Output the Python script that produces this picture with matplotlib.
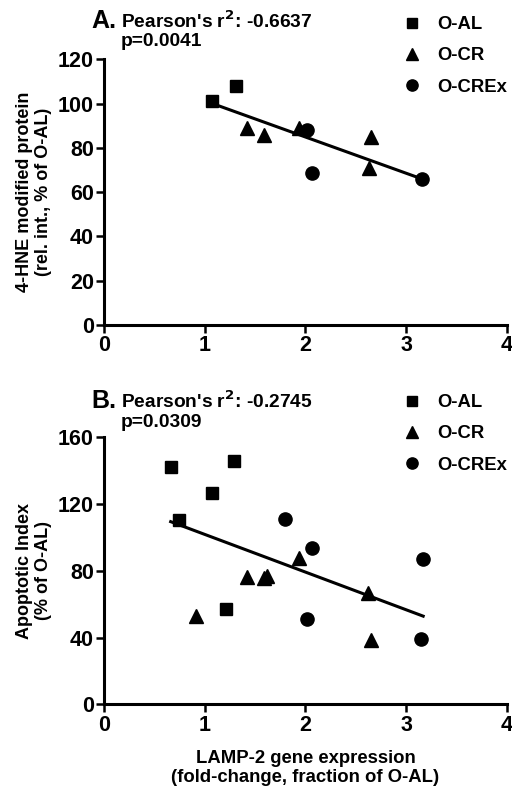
import numpy as np
import matplotlib
matplotlib.use("Agg")
import matplotlib.pyplot as plt

plt.rcParams['font.family'] = ['Liberation Sans', 'DejaVu Sans']
plt.rcParams['font.weight'] = 'bold'
plt.rcParams['axes.labelweight'] = 'bold'

# panel A: 4-HNE modified protein vs LAMP-2
a_al_x = [1.07, 1.31]
a_al_y = [101, 108]
a_cr_x = [1.415, 1.59, 1.94, 2.65, 2.63]
a_cr_y = [89, 86, 89, 85, 71]
a_crex_x = [2.02, 2.06, 3.16]
a_crex_y = [88, 68.8, 65.8]

# panel B: apoptotic index vs LAMP-2
b_al_x = [0.66, 1.29, 1.07, 0.745, 1.21]
b_al_y = [142, 145.8, 126.8, 110.5, 57]
b_cr_x = [0.91, 1.415, 1.59, 1.62, 1.94, 2.62, 2.65]
b_cr_y = [53, 76.5, 76, 77, 87.5, 67, 38.5]
b_crex_x = [1.80, 2.065, 2.02, 3.17, 3.15]
b_crex_y = [110.9, 93.5, 51, 87, 39]

groups = ['O-AL', 'O-CR', 'O-CREx']
markers = ['s', '^', 'o']
msizes = [9, 10, 9.5]

r2_a = "Pearson's r$^\\mathbf{2}$: -0.6637"
p_a = "p=0.0041"
r2_b = "Pearson's r$^\\mathbf{2}$: -0.2745"
p_b = "p=0.0309"

fig = plt.figure(figsize=(5.12, 7.92), dpi=100)
axA = fig.add_axes([0.2037, 0.5896, 0.7859, 0.3355])
axB = fig.add_axes([0.2037, 0.1107, 0.7859, 0.3371])


def draw_panel(ax, xs, ys, ymax, yticks):
    for x, y, m, ms, g in zip(xs, ys, markers, msizes, groups):
        ax.plot(x, y, linestyle='none', marker=m, markersize=ms, color='black', label=g)
    allx = np.concatenate([np.array(v, float) for v in xs])
    ally = np.concatenate([np.array(v, float) for v in ys])
    k, b = np.polyfit(allx, ally, 1)
    lx = np.array([allx.min(), allx.max()])
    ax.plot(lx, k * lx + b, color='black', linewidth=2.2)
    ax.set_xlim(0, 4)
    ax.set_ylim(0, ymax)
    ax.set_xticks([0, 1, 2, 3, 4])
    ax.set_yticks(yticks)
    for s in ['top', 'right']:
        ax.spines[s].set_visible(False)
    for s in ['left', 'bottom']:
        ax.spines[s].set_linewidth(2.2)
    ax.tick_params(direction='out', length=6, width=1.8, labelsize=15.5, pad=1.5)
    ax.patch.set_alpha(0)


draw_panel(axA, [a_al_x, a_cr_x, a_crex_x], [a_al_y, a_cr_y, a_crex_y], 120, [0, 20, 40, 60, 80, 100, 120])
draw_panel(axB, [b_al_x, b_cr_x, b_crex_x], [b_al_y, b_cr_y, b_crex_y], 160, [0, 40, 80, 120, 160])

axA.set_ylabel('4-HNE modified protein\n(rel. int., % of O-AL)', fontsize=13, labelpad=4)
axB.set_ylabel('Apoptotic Index\n(% of O-AL)', fontsize=13, labelpad=4)
axB.set_xlabel('LAMP-2 gene expression\n(fold-change, fraction of O-AL)', fontsize=13.3, labelpad=10)

fig.text(91 / 512, 1 - 27.5 / 792, 'A.', fontsize=18, va='baseline')
fig.text(121 / 512, 1 - 27.5 / 792, r2_a, fontsize=13.8, va='baseline')
fig.text(121 / 512, 1 - 46.5 / 792, p_a, fontsize=13.8, va='baseline')
fig.text(91 / 512, 1 - 408 / 792, 'B.', fontsize=18, va='baseline')
fig.text(121 / 512, 1 - 408 / 792, r2_b, fontsize=13.8, va='baseline')
fig.text(121 / 512, 1 - 427 / 792, p_b, fontsize=13.8, va='baseline')

for ax, top in [(axA, 16), (axB, 394)]:
    h, l = ax.get_legend_handles_labels()
    fig.legend(h[:3], l[:3], loc='upper left', bbox_to_anchor=(403 / 512, 1 - top / 792),
               frameon=False, fontsize=13.3, handlelength=1.0, handletextpad=0.85,
               borderpad=0, borderaxespad=0, labelspacing=0.78, markerscale=0.85)

fig.savefig('out.png', dpi=100)
